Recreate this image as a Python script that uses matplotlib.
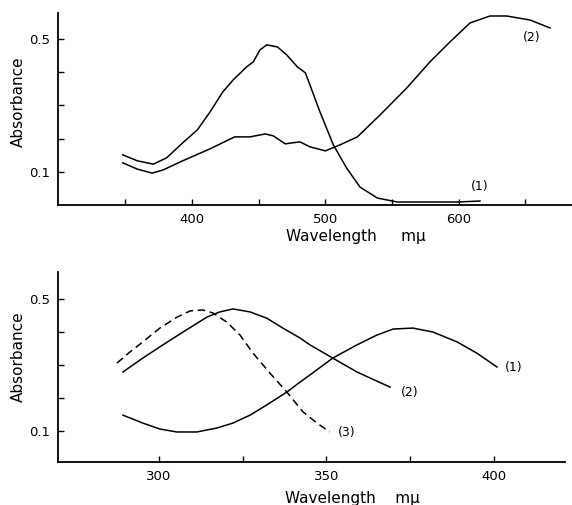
import numpy as np
import matplotlib
matplotlib.use('Agg')
import matplotlib.pyplot as plt

# upper spectrum, curve (1)
wl_top_1 = [348, 359, 371, 381, 393, 404, 413.5, 423, 431, 441, 446, 451, 456, 464, 471,
            479, 485, 488.5, 496, 506, 516, 526, 539, 554, 573, 599, 616]
abs_top_1 = [0.151, 0.133, 0.123, 0.142, 0.187, 0.226, 0.280, 0.340, 0.377, 0.416, 0.431,
             0.467, 0.482, 0.476, 0.452, 0.416, 0.398, 0.361, 0.280, 0.181, 0.111, 0.054,
             0.021, 0.009, 0.009, 0.009, 0.012]

# upper spectrum, curve (2)
wl_top_2 = [348, 359, 370, 378, 393, 413.5, 432, 443.5, 455, 461, 470, 475, 481, 488.5, 500,
            511, 524, 541, 561, 578.5, 593.5, 608.5, 623.5, 636, 653.5, 668.5]
abs_top_2 = [0.127, 0.108, 0.096, 0.105, 0.133, 0.169, 0.205, 0.205, 0.214, 0.208, 0.184,
             0.187, 0.190, 0.175, 0.163, 0.181, 0.205, 0.271, 0.352, 0.431, 0.491, 0.548,
             0.569, 0.569, 0.557, 0.533]

# lower spectrum, curve (1)
wl_bot_1 = [289.3, 295.2, 300.3, 305.4, 311.3, 317.3, 322.1, 327.2, 332.2, 338.2, 342.1,
            345.1, 351.9, 359.1, 365.1, 369.9, 375.8, 381.8, 389.0, 394.9, 400.9]
abs_bot_1 = [0.148, 0.124, 0.106, 0.097, 0.097, 0.109, 0.124, 0.148, 0.179, 0.218, 0.248,
             0.270, 0.321, 0.361, 0.391, 0.409, 0.412, 0.400, 0.370, 0.336, 0.294]

# lower spectrum, curve (2)
wl_bot_2 = [289.3, 295.2, 301.2, 307.2, 314.3, 318.2, 322.1, 327.2, 332.2, 337.0, 342.1,
            345.1, 351.9, 359.1, 369.0]
abs_bot_2 = [0.279, 0.321, 0.361, 0.400, 0.445, 0.461, 0.470, 0.461, 0.442, 0.412, 0.382,
             0.361, 0.321, 0.279, 0.233]

# lower spectrum, curve (3) dashed
wl_bot_3 = [287.5, 291.3, 295.2, 300.3, 305.4, 309.3, 313.1, 316.1, 320.3, 324.2, 328.1,
            333.1, 338.2, 343.0, 347.2, 351.0]
abs_bot_3 = [0.306, 0.339, 0.370, 0.412, 0.445, 0.464, 0.467, 0.458, 0.430, 0.391, 0.336,
             0.276, 0.218, 0.158, 0.124, 0.097]

y_ticks = [0.1, 0.2, 0.3, 0.4, 0.5]
y_labels = ['0.1', '', '', '', '0.5']
top_x_ticks = [350, 400, 450, 500, 550, 600, 650]
top_x_labels = ['', '400', '', '500', '', '600', '']
bot_x_ticks = [300, 325, 350, 375, 400]
bot_x_labels = ['300', '', '350', '', '400']

W, H = 572, 505
fig = plt.figure(figsize=(W / 100, H / 100), dpi=100)


def px_axes(x0, y0, x1, y1):
    return fig.add_axes([x0 / W, 1 - y1 / H, (x1 - x0) / W, (y1 - y0) / H])


def style(ax, xt, xl):
    for s in ['top', 'right']:
        ax.spines[s].set_visible(False)
    for s in ['left', 'bottom']:
        ax.spines[s].set_linewidth(1.3)
    ax.set_yticks(y_ticks)
    ax.set_yticklabels(y_labels)
    ax.set_xticks(xt)
    ax.set_xticklabels(xl)
    ax.tick_params(direction='in', length=4, width=1, labelsize=9.5, pad=6)


ax1 = px_axes(58, 13, 572, 205)
ax1.plot(wl_top_1, abs_top_1, color='black', lw=1.1)
ax1.plot(wl_top_2, abs_top_2, color='black', lw=1.1)
ax1.set_xlim(299.5, 685)
ax1.set_ylim(0, 0.578)
style(ax1, top_x_ticks, top_x_labels)
ax1.text(616, 0.055, '(1)', fontsize=9, ha='center', va='center')
ax1.text(655, 0.505, '(2)', fontsize=9, ha='center', va='center')

ax2 = px_axes(58, 272, 565, 462)
ax2.plot(wl_bot_1, abs_bot_1, color='black', lw=1.1)
ax2.plot(wl_bot_2, abs_bot_2, color='black', lw=1.1)
ax2.plot(wl_bot_3, abs_bot_3, color='black', lw=1.1, linestyle=(0, (5, 3)))
ax2.set_xlim(269.9, 421.2)
ax2.set_ylim(0.006, 0.582)
style(ax2, bot_x_ticks, bot_x_labels)
ax2.text(406, 0.294, '(1)', fontsize=9, ha='center', va='center')
ax2.text(375, 0.218, '(2)', fontsize=9, ha='center', va='center')
ax2.text(356, 0.094, '(3)', fontsize=9, ha='center', va='center')

fig.text(18 / W, 1 - 102 / H, 'Absorbance', rotation=90, fontsize=11,
         ha='center', va='center')
fig.text(18 / W, 1 - 357 / H, 'Absorbance', rotation=90, fontsize=11,
         ha='center', va='center')
fig.text(356 / W, 1 - 237 / H, 'Wavelength     mμ', fontsize=11,
         ha='center', va='center')
fig.text(352 / W, 1 - 499 / H, 'Wavelength    mμ', fontsize=11,
         ha='center', va='center')

fig.savefig('out.png', dpi=100)
